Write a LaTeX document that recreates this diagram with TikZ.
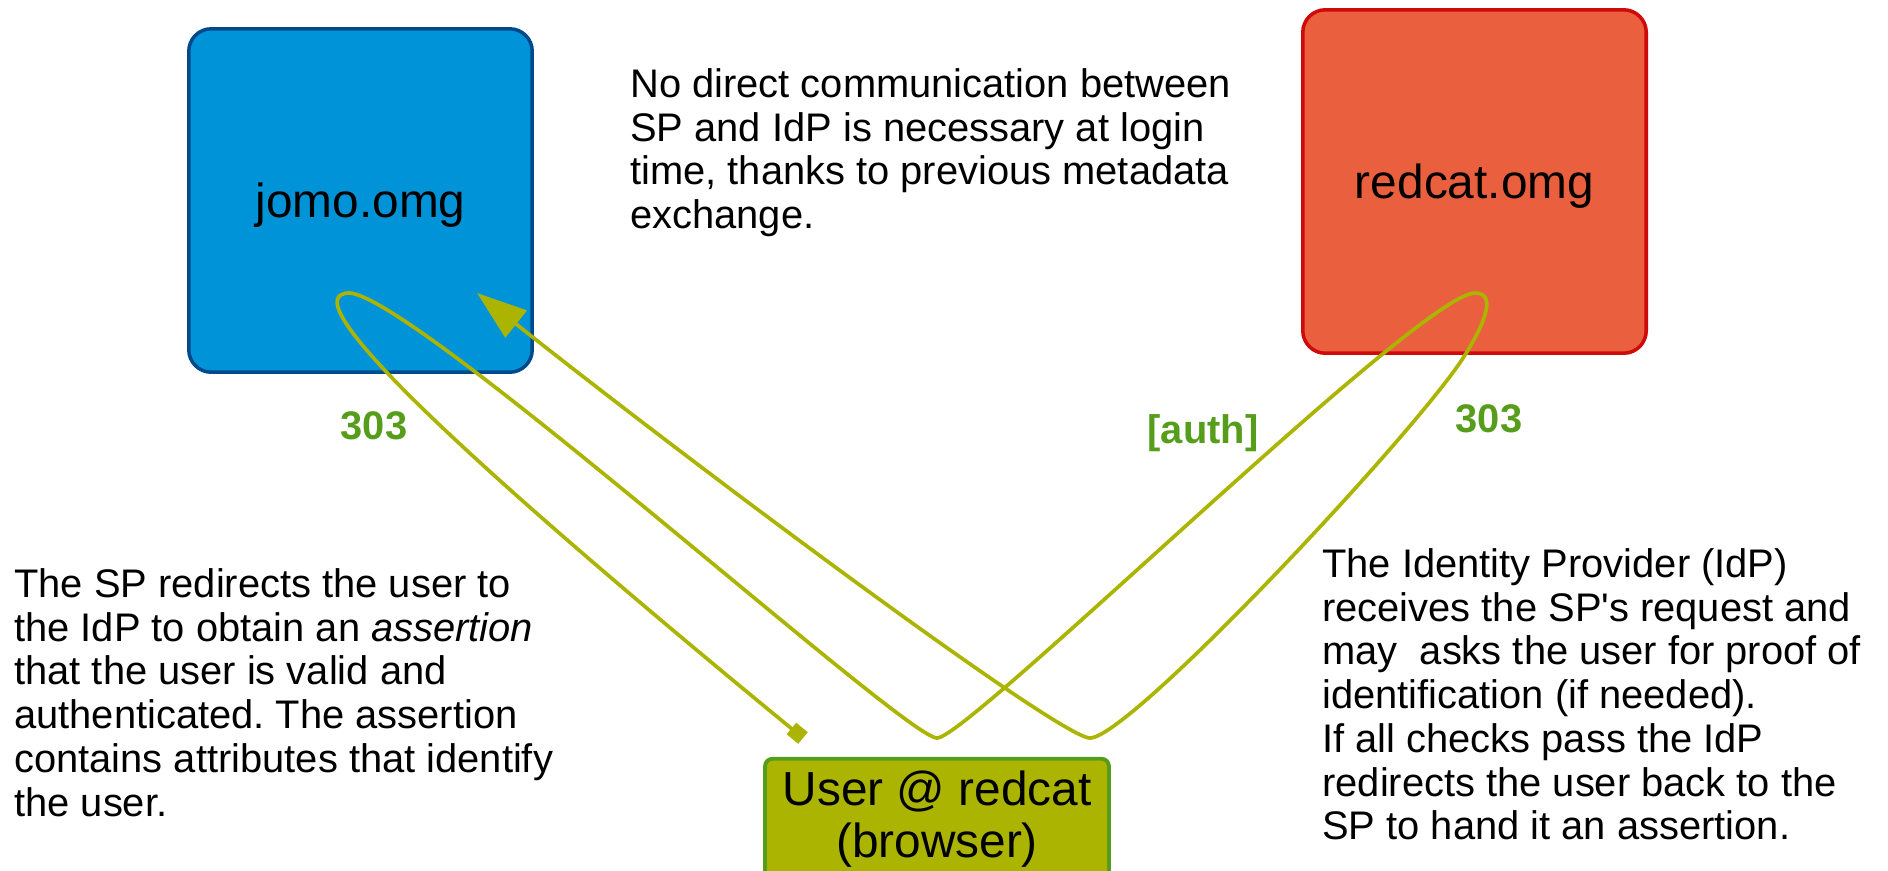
\documentclass[tikz,border=0pt]{standalone}
\usepackage{fontspec}
\setmainfont{Liberation Sans}
\usetikzlibrary{arrows.meta}
\frenchspacing

\definecolor{spblue}{HTML}{0093D8}
\definecolor{spborder}{HTML}{004A8C}
\definecolor{idpred}{HTML}{EA603F}
\definecolor{idpborder}{HTML}{CF0A0A}
\definecolor{flowolive}{HTML}{ABB400}
\definecolor{labelgreen}{HTML}{579D1C}

\tikzset{
    site/.style={rectangle, rounded corners=0.45cm, line width=2pt,
        minimum width=6.87cm, minimum height=6.87cm,
        text height=0.869cm, text depth=0.204cm,
        font=\fontsize{27.2}{31}\selectfont},
    note/.style={anchor=north west, inner sep=0pt, align=left,
        font=\fontsize{22.7}{24.9}\selectfont},
    code/.style={inner sep=0pt, text=labelgreen,
        font=\fontsize{22.7}{26}\selectfont\bfseries},
    flow/.style={draw=flowolive, line width=2.1pt}
}

\begin{document}
\begin{tikzpicture}[x=0.02cm, y=-0.02cm]
    \useasboundingbox (0,0) rectangle (1888,870);

    % SP and IdP
    \node[site, fill=spblue, draw=spborder] (jomo) at (360.5,200.5) {jomo.omg};
    \node[site, fill=idpred, draw=idpborder] (redcat) at (1474.5,181.5) {redcat.omg};

    % the browser
    \node[rectangle, rounded corners=0.15cm, line width=2.2pt,
    fill=flowolive, draw=labelgreen,
    minimum width=6.88cm, minimum height=2.41cm,
    align=center, font=\fontsize{27.2}{29.5}\selectfont] (user) at (937,819) {User @ redcat\\(browser)};

    % redirect round trip
    \coordinate (tail) at (803,738);
    \coordinate (spturn) at (350,293);
    \coordinate (low1) at (937,738);
    \coordinate (idpturn) at (1475,293);
    \coordinate (idpout) at (1465,355);
    \coordinate (low2) at (1090,738);
    \coordinate (head) at (477,293);

    \draw[flow, {Square[length=0.3cm,width=0.3cm]}-{Triangle[length=1cm,width=0.68cm]}]
        (tail) .. controls (440,440) and (290,293) .. (spturn)
        .. controls (420,300) and (905,738) .. (low1)
        .. controls (969,738) and (1420,293) .. (idpturn)
        .. controls (1495,293) and (1488,318) .. (idpout)
        .. controls (1419,429) and (1130,738) .. (low2)
        .. controls (1060,738) and (700,470) .. (head);

    \node[code] (sp303) at (374,426) {303};
    \node[code] (auth) at (1203,433) {[auth]};
    \node[code] (idp303) at (1489,419) {303};

    % explanations
    \node[note] (metanote) at (630,68) {No direct communication between\\
        SP and IdP is necessary at login\\
        time, thanks to previous metadata\\
        exchange.};
    \node[note] (spnote) at (14,568) {The SP redirects the user to\\
        the IdP to obtain an \textit{assertion}\\
        that the user is valid and\\
        authenticated. The assertion\\
        contains attributes that identify\\
        the user.};
    \node[note] (idpnote) at (1322,548) {The Identity Provider (IdP)\\
        receives the SP\textquotesingle s request and\\
        may\ \ asks the user for proof of\\
        identification (if needed).\\
        If all checks pass the IdP\\
        redirects the user back to the\\
        SP to hand it an assertion.};
\end{tikzpicture}
\end{document}
